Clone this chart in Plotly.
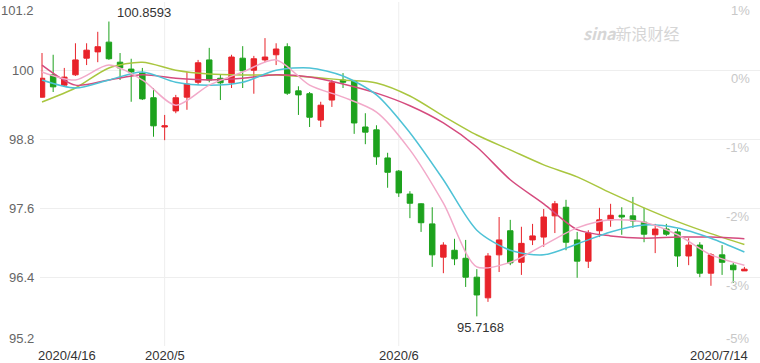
import plotly.graph_objects as go

# ---- data ----
dates = ["2020/4/16","2020/4/17","2020/4/20","2020/4/21","2020/4/22","2020/4/23","2020/4/24","2020/4/27","2020/4/28","2020/4/29","2020/4/30",
         "2020/5/1","2020/5/4","2020/5/5","2020/5/6","2020/5/7","2020/5/8","2020/5/11","2020/5/12","2020/5/13","2020/5/14","2020/5/15",
         "2020/5/18","2020/5/19","2020/5/20","2020/5/21","2020/5/22","2020/5/25","2020/5/26","2020/5/27","2020/5/28","2020/5/29",
         "2020/6/1","2020/6/2","2020/6/3","2020/6/4","2020/6/5","2020/6/8","2020/6/9","2020/6/10","2020/6/11","2020/6/12",
         "2020/6/15","2020/6/16","2020/6/17","2020/6/18","2020/6/19","2020/6/22","2020/6/23","2020/6/24","2020/6/25","2020/6/26",
         "2020/6/29","2020/6/30","2020/7/1","2020/7/2","2020/7/3","2020/7/6","2020/7/7","2020/7/8","2020/7/9","2020/7/10","2020/7/13","2020/7/14"]
opens = [99.54,99.93,99.75,99.93,100.22,100.33,100.50,100.15,100.03,99.96,99.53,99.02,99.30,99.54,99.80,100.19,99.87,99.79,100.22,100.01,
         100.19,100.28,100.42,99.65,99.60,99.14,99.49,99.84,99.82,99.02,98.97,98.48,98.25,97.85,97.68,97.33,96.75,96.87,96.73,96.40,
         96.04,96.79,97.21,96.66,97.05,97.10,97.47,97.62,97.05,96.68,97.21,97.40,97.48,97.47,97.36,97.14,97.24,97.19,96.77,96.96,
         96.47,96.79,96.61,96.51]
highs = [100.31,100.28,100.05,100.48,100.48,100.68,100.8593,100.31,100.21,100.05,99.70,99.23,99.58,99.98,100.19,100.40,99.93,100.28,100.43,100.26,
         100.57,100.48,100.48,99.73,99.63,99.46,99.84,99.96,99.84,99.26,99.05,98.57,98.27,97.90,97.69,97.62,97.01,97.07,97.05,96.54,
         96.82,97.45,97.40,97.28,97.33,97.59,97.73,97.75,97.19,97.22,97.61,97.68,97.62,97.80,97.61,97.33,97.33,97.24,97.08,97.01,
         96.82,96.96,96.65,96.58]
lows = [99.53,99.63,99.72,99.91,100.10,100.15,100.19,99.84,99.46,99.49,98.85,98.79,99.26,99.32,99.75,99.80,99.49,99.70,99.70,99.60,
        100.15,100.10,99.58,99.23,99.02,99.02,99.37,99.70,98.90,98.72,98.36,97.96,97.80,97.43,97.19,96.58,96.47,96.61,96.23,95.7168,
        95.97,96.49,96.61,96.44,96.96,96.93,97.17,96.87,96.39,96.56,97.10,97.28,97.14,97.26,97.01,96.82,97.12,96.58,96.61,96.40,
        96.25,96.44,96.30,96.51]
closes = [99.87,99.72,99.89,100.19,100.36,100.42,100.21,100.05,99.98,99.51,99.04,99.04,99.53,99.77,100.14,99.84,99.79,100.24,100.00,100.21,
          100.24,100.38,99.61,99.58,99.19,99.40,99.79,99.80,99.09,98.93,98.50,98.23,97.87,97.69,97.35,96.79,96.96,96.72,96.40,96.09,
          96.77,97.05,96.65,96.99,97.12,97.45,97.68,97.01,96.68,97.17,97.40,97.48,97.45,97.38,97.15,97.24,97.15,96.77,96.96,96.47,
          96.79,96.66,96.53,96.54]

ma_idx = [0,3,6,9,12,15,18,21,24,27,30,33,36,39,42,45,48,51,54,57,60,63]
ma5 = [99.98,99.84,100.10,99.84,99.40,99.75,99.98,100.19,99.75,99.54,99.28,98.62,97.69,96.58,96.66,96.96,97.26,97.40,97.36,97.14,96.79,96.61]
ma10 = [99.84,99.70,99.84,99.98,99.80,99.75,99.80,100.01,100.05,99.91,99.58,98.92,98.10,97.22,96.87,96.79,96.98,97.19,97.31,97.26,97.08,96.84]
ma20 = [100.10,99.75,99.84,99.93,99.87,99.84,99.87,99.93,99.89,99.77,99.61,99.39,99.09,98.67,98.10,97.68,97.23,97.12,97.08,97.10,97.10,97.07]
ma30 = [99.456,99.70,100.05,100.15,100.01,99.944,99.927,99.927,99.892,99.84,99.787,99.56,99.21,98.88,98.62,98.36,98.15,97.87,97.61,97.37,97.16,96.97]

y_ticks = [101.2, 100, 98.8, 97.6, 96.4, 95.2]
y_tick_text = ["101.2", "100", "98.8", "97.6", "96.4", "95.2"]
pct_text = ["1%", "0%", "-1%", "-2%", "-3%", "-5%"]
x_tick_idx = [0, 11, 32, 63]
x_tick_text = ["2020/4/16", "2020/5", "2020/6", "2020/7/14"]

x = list(range(len(dates)))

fig = go.Figure()
fig.add_trace(go.Candlestick(
    x=x, open=opens, high=highs, low=lows, close=closes,
    increasing=dict(line=dict(color="#e8232a", width=1), fillcolor="#e8232a"),
    decreasing=dict(line=dict(color="#1da21d", width=1), fillcolor="#1da21d"),
    whiskerwidth=0, showlegend=False, hoverinfo="skip"))

for vals, col in [(ma30, "#a9c63f"), (ma20, "#d54b7e"), (ma10, "#4ec2d6"), (ma5, "#f2a9c9")]:
    fig.add_trace(go.Scatter(x=ma_idx, y=vals, mode="lines",
                             line=dict(color=col, width=1.5, shape="spline", smoothing=0.8),
                             showlegend=False, hoverinfo="skip"))

ann = []
for v, t in zip(y_ticks, y_tick_text):
    yshift = 0
    if v == y_ticks[0]:
        yshift = -8
    if v == y_ticks[-1]:
        yshift = 8
    ann.append(dict(x=0, xref="paper", y=v, yref="y", text=t, showarrow=False,
                    xanchor="right", yanchor="middle", xshift=-4, yshift=yshift,
                    font=dict(size=13, color="#666666")))
for v, t in zip(y_ticks, pct_text):
    yshift = -8
    if v == y_ticks[-1]:
        yshift = 8
    ann.append(dict(x=1, xref="paper", y=v, yref="y", text=t, showarrow=False,
                    xanchor="right", yanchor="middle", xshift=-8, yshift=yshift,
                    font=dict(size=13, color="#c8c8c8")))
for i, t in zip(x_tick_idx, x_tick_text):
    xa = "center"
    if i == x_tick_idx[0]:
        xa = "left"
    if i == x_tick_idx[-1]:
        xa = "right"
    ann.append(dict(x=i, xref="x", y=0, yref="paper", text=t, showarrow=False,
                    xanchor=xa, yanchor="top", xshift=(-6 if xa == "left" else (6 if xa == "right" else 0)), yshift=0,
                    font=dict(size=13, color="#333333")))

# high / low annotations
hi_i = highs.index(max(highs))
lo_i = lows.index(min(lows))
ann.append(dict(x=hi_i, y=max(highs), xref="x", yref="y", text=f"{max(highs):.4f}", showarrow=False,
                xanchor="left", yanchor="bottom", xshift=6, yshift=0, font=dict(size=13, color="#333333")))
ann.append(dict(x=lo_i, y=min(lows), xref="x", yref="y", text=f"{min(lows):.4f}", showarrow=False,
                xanchor="center", yanchor="top", xshift=4, yshift=-2, font=dict(size=13, color="#333333")))
# watermark
ann.append(dict(x=0.822, y=0.91, xref="paper", yref="paper", xanchor="center", yanchor="middle",
                text="<i><b>sina</b></i>新浪财经", showarrow=False,
                font=dict(size=16, color="#d6d6d6", family="Noto Sans CJK SC")))

shapes = []
for i in [11, 32]:
    shapes.append(dict(type="line", xref="x", yref="paper", x0=i, x1=i, y0=0, y1=1,
                       line=dict(color="#eeeeee", width=1), layer="below"))

fig.update_layout(
    width=760, height=363,
    margin=dict(l=40, r=0, t=2, b=17),
    paper_bgcolor="white", plot_bgcolor="white",
    font=dict(family="Arial, Liberation Sans, sans-serif"),
    xaxis=dict(range=[-0.18, 64.4], showgrid=False, zeroline=False, showticklabels=False,
               rangeslider=dict(visible=False), fixedrange=True),
    yaxis=dict(range=[95.2, 101.2], tickvals=y_ticks, showticklabels=False, showgrid=True,
               gridcolor="#eeeeee", gridwidth=1, zeroline=False, fixedrange=True),
    annotations=ann, shapes=shapes,
)
fig.write_html("out.html")
